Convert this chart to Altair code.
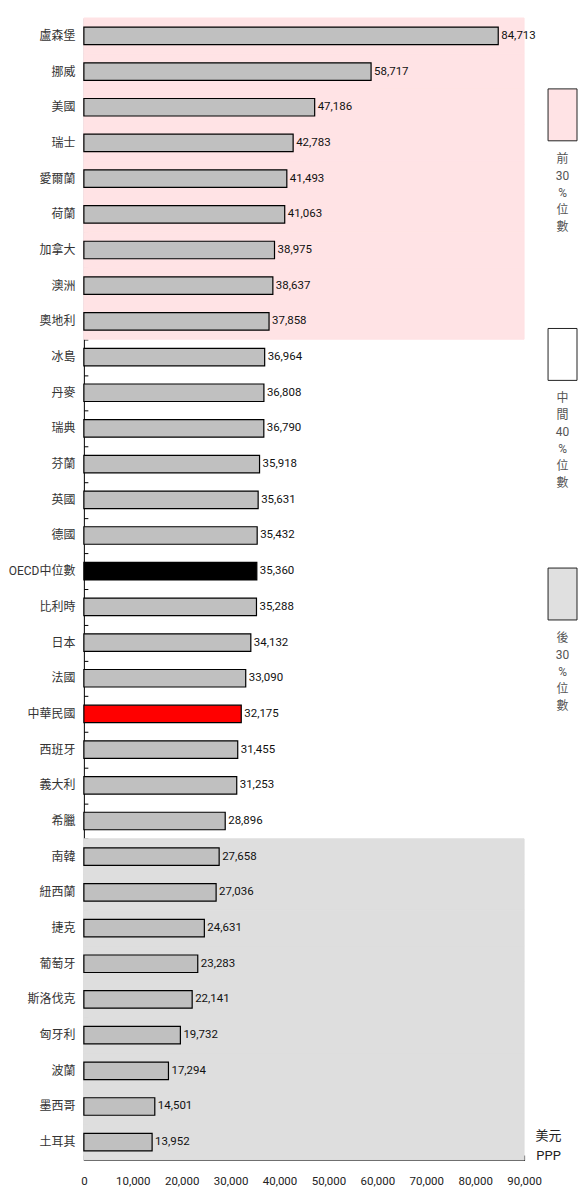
import altair as alt
import pandas as pd

countries = ["盧森堡", "挪威", "美國", "瑞士", "愛爾蘭", "荷蘭", "加拿大", "澳洲", "奧地利",
             "冰島", "丹麥", "瑞典", "芬蘭", "英國", "德國", "OECD中位數", "比利時", "日本",
             "法國", "中華民國", "西班牙", "義大利", "希臘",
             "南韓", "紐西蘭", "捷克", "葡萄牙", "斯洛伐克", "匈牙利", "波蘭", "墨西哥", "土耳其"]
values = [84713, 58717, 47186, 42783, 41493, 41063, 38975, 38637, 37858,
          36964, 36808, 36790, 35918, 35631, 35432, 35360, 35288, 34132,
          33090, 32175, 31455, 31253, 28896,
          27658, 27036, 24631, 23283, 22141, 19732, 17294, 14501, 13952]
tiers = ["前"] * 9 + ["中"] * 14 + ["後"] * 9
kinds = ["normal"] * 15 + ["median"] + ["normal"] * 3 + ["tw"] + ["normal"] * 12
x_ticks = [0, 10000, 20000, 30000, 40000, 50000, 60000, 70000, 80000, 90000]

legend_tiers = ["前", "中", "後"]
legend_texts = ["前\n30\n%\n位\n數", "中\n間\n40\n%\n位\n數", "後\n30\n%\n位\n數"]

PINK = "#ffe3e5"
GRAY_BG = "#dedede"
FONT = "Roboto, Noto Sans CJK TC, sans-serif"

df = pd.DataFrame({"country": countries, "value": values, "tier": tiers, "kind": kinds})
leg = pd.DataFrame({"tier": legend_tiers, "text": legend_texts})

xscale = alt.Scale(domain=[0, 90000], nice=False, zero=True)
yscale = alt.Scale(paddingInner=0, paddingOuter=0)
bgscale = alt.Scale(domain=["前", "後"], range=[PINK, GRAY_BG])

bg = alt.Chart(df).transform_filter("datum.tier != '中'").mark_rect(opacity=1, strokeWidth=1).encode(
    y=alt.Y("country:N", sort=countries, scale=yscale, axis=None),
    x=alt.X(datum=0, type="quantitative", scale=xscale, axis=None),
    x2=alt.X2(datum=90000),
    fill=alt.Fill("tier:N", scale=bgscale, legend=None),
    stroke=alt.Stroke("tier:N", scale=bgscale, legend=None),
)

bars = alt.Chart(df).mark_bar(height={"band": 0.49}, stroke="#000", strokeWidth=1.2).encode(
    y=alt.Y("country:N", sort=countries, scale=yscale,
            axis=alt.Axis(orient="left", title=None, ticks=False, tickSize=0, labelPadding=9,
                          domainColor="#000", domainWidth=1, labelFont=FONT, labelFontSize=12,
                          labelColor="#333", minExtent=75, maxExtent=75)),
    x=alt.X("value:Q", scale=xscale,
            axis=alt.Axis(orient="bottom", values=x_ticks, labelExpr="format(datum.value, ',')",
                          labelOverlap=False, labelFlush=False, ticks=False, tickSize=0,
                          labelPadding=16, domainColor="#000", domainWidth=1, grid=False,
                          labelFont=FONT, labelFontSize=11.5, labelColor="#222",
                          title=["美元", "PPP"], titleX=465, titleY=-31, titleAlign="center",
                          titleBaseline="top", titleFont=FONT, titleFontSize=13,
                          titleFontWeight="normal", titleColor="#222", titleLineHeight=20)),
    fill=alt.Fill("kind:N", scale=alt.Scale(domain=["normal", "median", "tw"],
                                              range=["#c0c0c0", "#000000", "#ff0000"]), legend=None),
)

labels = alt.Chart(df).mark_text(align="left", baseline="middle", dx=3, font=FONT,
                                 fontSize=11.5, color="#111").encode(
    y=alt.Y("country:N", sort=countries, scale=yscale,
            axis=alt.Axis(orient="left", labels=False, domain=False, tickBand="extent",
                          tickSize=4, offset=-4, tickColor="#000", title=None)),
    x=alt.X("value:Q", scale=xscale,
            axis=alt.Axis(orient="bottom", labels=False, domain=False, values=x_ticks,
                          tickSize=5, offset=-5, tickColor="#000", grid=False, title=None)),
    text=alt.Text("value:Q", format=","),
)

main = alt.layer(bg, bars, labels).resolve_axis(x="independent", y="independent").resolve_scale(
    fill="independent", stroke="independent").properties(width=441, height=1144)

lscale = alt.Scale(domain=legend_tiers, paddingInner=0, paddingOuter=0)
boxes = alt.Chart(leg).mark_bar(height=52, stroke="#222", strokeWidth=1).encode(
    y=alt.Y("tier:N", sort=legend_tiers, scale=lscale, axis=None),
    yOffset=alt.value(97),
    fill=alt.Fill("tier:N", scale=alt.Scale(domain=legend_tiers, range=[PINK, "#ffffff", "#e0e0e0"]),
                  legend=None),
)
ltext = alt.Chart(leg).mark_text(baseline="top", align="center", lineBreak="\n", lineHeight=17,
                                 font=FONT, fontSize=12, color="#555").encode(
    y=alt.Y("tier:N", sort=legend_tiers, scale=lscale, axis=None),
    yOffset=alt.value(136),
    text="text:N",
)
legend = alt.layer(boxes, ltext).properties(width=29, height=720)

chart = alt.hconcat(main, legend, spacing=24, bounds="flush").configure_view(stroke=None).properties(
    padding={"left": 0, "top": 8, "right": 0, "bottom": 0})

chart.save("out.html", embed_options={"renderer": "svg", "actions": False})
